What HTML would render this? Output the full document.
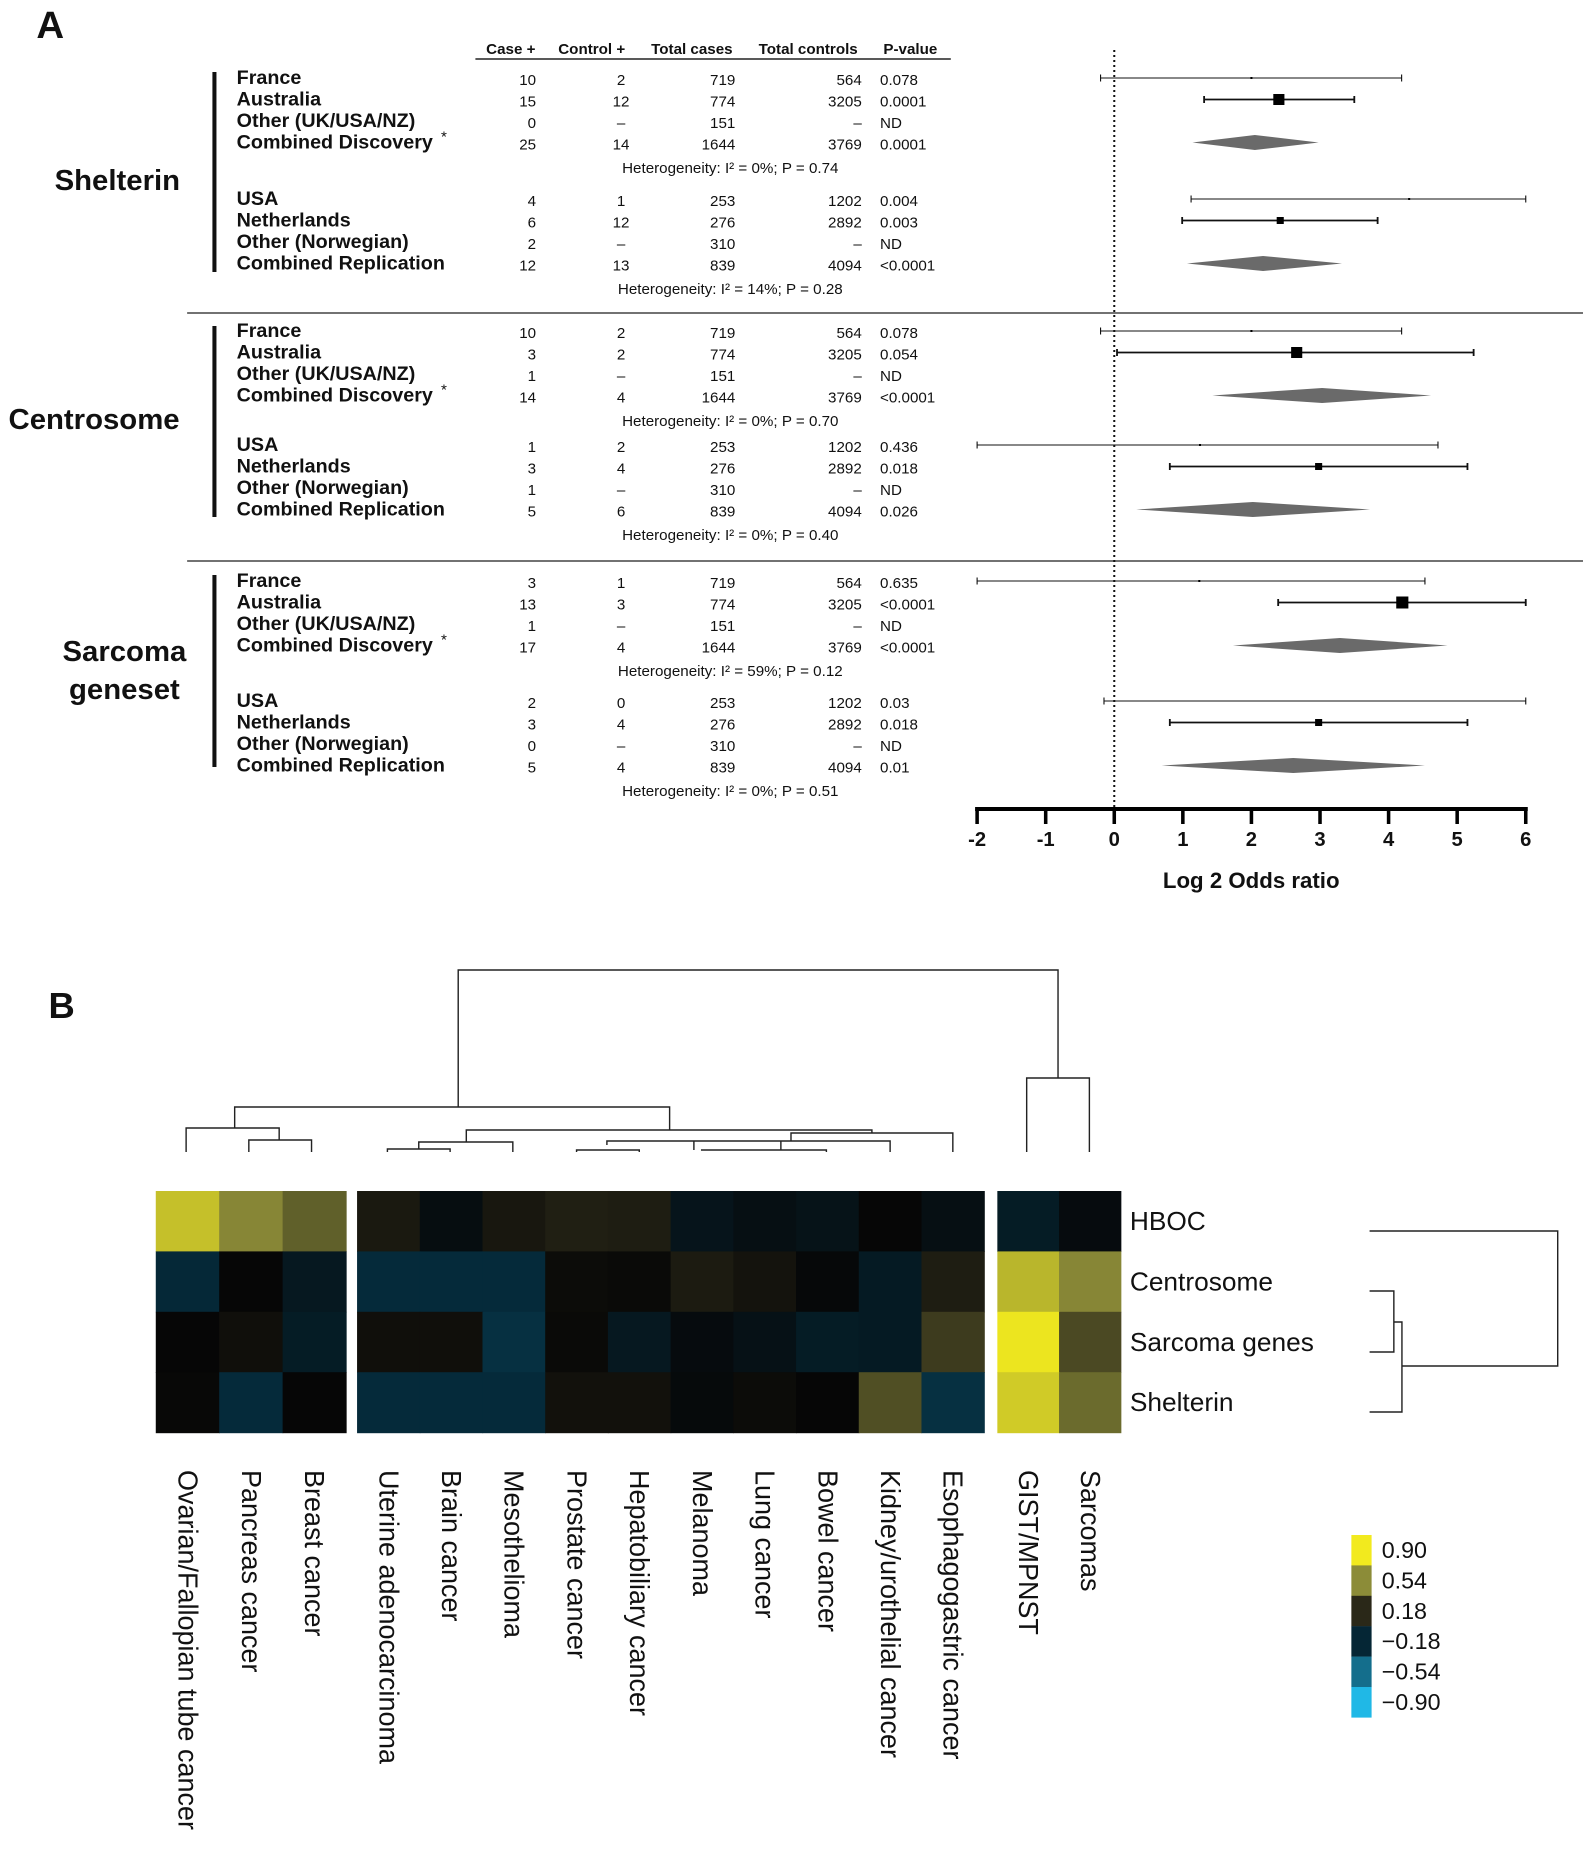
<!DOCTYPE html>
<html><head><meta charset="utf-8"><style>
html,body{margin:0;padding:0;background:#fff}
svg{display:block}
text{font-family:"Liberation Sans Narrow","Liberation Sans",sans-serif;fill:#111}
</style></head><body>
<svg id="fig" width="1583" height="1857" viewBox="0 0 1565 1857" preserveAspectRatio="none" xmlns="http://www.w3.org/2000/svg">
<text x="36" y="38" font-size="38" font-weight="bold" fill="#333">A</text>
<g id="pa"></g>
<g id="pb">
<text x="48" y="1018" font-size="36" font-weight="bold" fill="#333">B</text>
</g>
</svg>
<script>
const NS="http://www.w3.org/2000/svg";
// ---------- Panel A data ----------
const groupNames=[["Shelterin"],["Centrosome"],["Sarcoma","geneset"]];
const rowLabels=["France","Australia","Other (UK/USA/NZ)","Combined Discovery","USA","Netherlands","Other (Norwegian)","Combined Replication"];
const casePos=[["10","15","0","25","4","6","2","12"],["10","3","1","14","1","3","1","5"],["3","13","1","17","2","3","0","5"]];
const ctrlPos=[["2","12","–","14","1","12","–","13"],["2","2","–","4","2","4","–","6"],["1","3","–","4","0","4","–","4"]];
const totCases=["719","774","151","1644","253","276","310","839"];
const totCtrls=["564","3205","–","3769","1202","2892","–","4094"];
const pvals=[["0.078","0.0001","ND","0.0001","0.004","0.003","ND","<0.0001"],["0.078","0.054","ND","<0.0001","0.436","0.018","ND","0.026"],["0.635","<0.0001","ND","<0.0001","0.03","0.018","ND","0.01"]];
const hetTexts=[["Heterogeneity: I² = 0%; P = 0.74","Heterogeneity: I² = 14%; P = 0.28"],["Heterogeneity: I² = 0%; P = 0.70","Heterogeneity: I² = 0%; P = 0.40"],["Heterogeneity: I² = 59%; P = 0.12","Heterogeneity: I² = 0%; P = 0.51"]];
const est=[[2.0,2.4,null,2.05,4.3,2.42,null,2.17],[2.0,2.66,null,3.03,1.25,2.98,null,2.02],[1.24,4.2,null,3.29,6.0,2.98,null,2.61]];
const lo=[[-0.2,1.31,null,1.14,1.12,0.99,null,1.06],[-0.2,0.04,null,1.43,-2,0.81,null,0.32],[-2,2.39,null,1.73,-0.15,0.81,null,0.69]];
const hi=[[4.19,3.5,null,2.98,6.0,3.84,null,3.32],[4.19,5.24,null,4.62,4.72,5.15,null,3.73],[4.53,6.0,null,4.86,6.0,5.15,null,4.53]];
const markSize=[[2,11,0,0,2,7,0,0],[2,11,0,0,2,7,0,0],[2,12,0,0,0,7,0,0]];
const xTicks=[-2,-1,0,1,2,3,4,5,6];

function el(tag,attrs,parent,txt){const e=document.createElementNS(NS,tag);for(const k in attrs)e.setAttribute(k,attrs[k]);if(txt!==undefined)e.textContent=txt;parent.appendChild(e);return e;}
const pa=document.getElementById('pa');
const X=v=>966+(v+2)*67.8;

const hdr=[["Case +",505],["Control +",585],["Total cases",684],["Total controls",799],["P-value",900]];
hdr.forEach(h=>{const t=el('text',{x:h[1],y:54,'font-size':15,'font-weight':'bold','text-anchor':'middle'},pa,h[0]);

});
let ln=el('line',{x1:470,y1:59,x2:940,y2:59,stroke:'#222','stroke-width':1.5},pa);



const gStart=[78,331,581];
const b2Off=[121,114,120];
const within=[0,21.5,43,64.5];
const nameY=[[190],[429],[661,699]];
const nameX=[116,93,123];
const barRange=[[72,272],[326,517],[575,767]];
for(let g=0;g<3;g++){
  groupNames[g].forEach((n,i)=>{const t=el('text',{x:nameX[g],y:nameY[g][i],'font-size':29,'font-weight':'bold','text-anchor':'middle'},pa,n);
  
  });
  const vb=el('line',{x1:212,y1:barRange[g][0],x2:212,y2:barRange[g][1],stroke:'#111','stroke-width':4},pa);
  
  
  for(let r=0;r<8;r++){
    const y=gStart[g]+(r<4?within[r]:b2Off[g]+within[r-4]);
    const ty=y+6;
    const lab=el('text',{x:234,y:ty,'font-size':19.5,'font-weight':'bold'},pa,rowLabels[r]);
    
    
    if(r===3){const s=el('text',{x:436,y:ty-7,'font-size':15},pa,'*');}
    const cells=[[casePos[g][r],530,'end'],[ctrlPos[g][r],614,'middle'],[totCases[r],727,'end'],[totCtrls[r],852,'end'],[pvals[g][r],870,'start']];
    cells.forEach(c=>{const t=el('text',{x:c[1],y:ty+1,'font-size':15,'text-anchor':c[2]},pa,c[0]);
    
    });
    if(est[g][r]!==null){
      if(r===3||r===7){
        const p=el('polygon',{points:`${X(lo[g][r])},${y} ${X(est[g][r])},${y-7.5} ${X(hi[g][r])},${y} ${X(est[g][r])},${y+7.5}`,fill:'#6a6a6a'},pa);
        
        
      }else{
        const w=markSize[g][r]>=7?1.8:1.1;
        const l=el('line',{x1:X(lo[g][r]),y1:y,x2:X(hi[g][r]),y2:y,stroke:'#111','stroke-width':w},pa);
        
        
        [lo[g][r],hi[g][r]].forEach(v=>{const c=el('line',{x1:X(v),y1:y-3.5,x2:X(v),y2:y+3.5,stroke:'#111','stroke-width':w},pa);
        
        });
        const s=markSize[g][r];
        if(s>0){const q=el('rect',{x:X(est[g][r])-s/2,y:y-s/2,width:s,height:s,fill:'#000'},pa);
        
        }
      }
    }
  }
  [0,1].forEach(b=>{const y=gStart[g]+(b?b2Off[g]:0)+90+5;
    const t=el('text',{x:722,y:y,'font-size':15,'text-anchor':'middle'},pa,hetTexts[g][b]);
    
    });
}
[313,561].forEach(y=>{const s=el('line',{x1:185,y1:y,x2:1565,y2:y,stroke:'#444','stroke-width':1.5},pa);

});
const ref=el('line',{x1:X(0),y1:50,x2:X(0),y2:809,stroke:'#111','stroke-width':2,'stroke-dasharray':'2,3'},pa);


const ax=el('line',{x1:X(-2)-2,y1:809,x2:X(6)+2,y2:809,stroke:'#000','stroke-width':4},pa);


xTicks.forEach(v=>{const t=el('line',{x1:X(v),y1:809,x2:X(v),y2:824,stroke:'#000','stroke-width':3.5},pa);


const l=el('text',{x:X(v),y:846,'font-size':20,'font-weight':'bold','text-anchor':'middle'},pa,String(v));

});
const xt=el('text',{x:1237,y:888,'font-size':22,'font-weight':'bold','text-anchor':'middle'},pa,'Log 2 Odds ratio');



// ---------- Panel B data ----------
const cancers=["Ovarian/Fallopian tube cancer","Pancreas cancer","Breast cancer","Uterine adenocarcinoma","Brain cancer","Mesothelioma","Prostate cancer","Hepatobiliary cancer","Melanoma","Lung cancer","Bowel cancer","Kidney/urothelial cancer","Esophagogastric cancer","GIST/MPNST","Sarcomas"];
const genesets=["HBOC","Centrosome","Sarcoma genes","Shelterin"];
const valHBOC=[0.74,0.52,0.38,0.10,-0.04,0.09,0.13,0.12,-0.08,-0.05,-0.07,0.0,-0.05,-0.12,-0.03];
const valCentro=[-0.19,0.0,-0.1,-0.2,-0.2,-0.2,0.03,0.02,0.11,0.07,-0.01,-0.11,0.12,0.7,0.52];
const valSarc=[0.0,0.05,-0.12,0.05,0.05,-0.23,0.02,-0.1,-0.03,-0.06,-0.12,-0.11,0.25,0.88,0.3];
const valShelt=[0.01,-0.2,0.0,-0.2,-0.2,-0.2,0.06,0.06,-0.02,0.03,0.0,0.32,-0.23,0.78,0.42];
const legendLabels=["0.90","0.54","0.18","−0.18","−0.54","−0.90"];
const legendVals=[0.9,0.54,0.18,-0.18,-0.54,-0.9];
const colStops=[[-0.9,[32,184,230]],[-0.54,[20,110,140]],[-0.2,[5,42,58]],[0,[6,6,6]],[0.18,[42,40,24]],[0.54,[140,140,56]],[0.9,[242,234,30]]];
function color(v){for(let i=0;i<colStops.length-1;i++){const a=colStops[i],b=colStops[i+1];if(v<=b[0]||i===colStops.length-2){let t=(v-a[0])/(b[0]-a[0]);t=Math.max(0,Math.min(1,t));const c=a[1].map((x,k)=>Math.round(x+(b[1][k]-x)*t));return `rgb(${c.join(',')})`;}}}
const pb=document.getElementById('pb');
const rowsVals=[valHBOC,valCentro,valSarc,valShelt];
function colX(i){if(i<3)return 154+i*62.7;if(i<13)return 353+(i-3)*62;return 986+(i-13)*61;}
function colW(i){return i<3?62.7:(i<13?62:61);}
const rowH=60.4,hmTop=1191;
rowsVals.forEach((vals,r)=>{vals.forEach((v,i)=>{
  const c=el('rect',{x:colX(i),y:hmTop+r*rowH,width:colW(i)+0.6,height:rowH+0.6,fill:color(v)},pb);
  
  });
  const t=el('text',{x:1117,y:hmTop+r*rowH+39,'font-size':26,fill:'#222'},pb,genesets[r]);
  
  });
cancers.forEach((n,i)=>{const cx=colX(i)+colW(i)/2;
  const t=el('text',{x:0,y:0,'font-size':27,fill:'#222',transform:`translate(${cx-9},1470) rotate(90)`},pb,n);
  
  });
legendVals.forEach((v,i)=>{const r=el('rect',{x:1336,y:1535+i*30.4,width:20,height:30.6,fill:color(v)},pb);
  
  
  const t=el('text',{x:1366,y:1535+i*30.4+23,'font-size':23,fill:'#333'},pb,legendLabels[i]);
  
  });
const colDendro="M453,1107V970H1046V1078 M1015,1152V1078H1077V1152 M232,1128V1107H662V1130 M184,1152V1128H276V1140 M246,1152V1140H308V1152 M461,1142V1130H862V1133 M414,1149V1142H507V1152 M383,1152V1149H445V1152 M782,1141V1133H942V1152 M600,1145V1141H880V1152 M570,1152V1150H632V1152 M686,1150V1141H772V1150 M693,1150H817V1152";
const d1=el('path',{d:colDendro,fill:'none',stroke:'#222','stroke-width':1.4},pb);


const rowDendro="M1354,1231H1540V1366H1386 M1354,1291H1378V1352H1354 M1378,1322H1386V1412H1354";
const d2=el('path',{d:rowDendro,fill:'none',stroke:'#222','stroke-width':1.4},pb);


</script>
</body></html>
